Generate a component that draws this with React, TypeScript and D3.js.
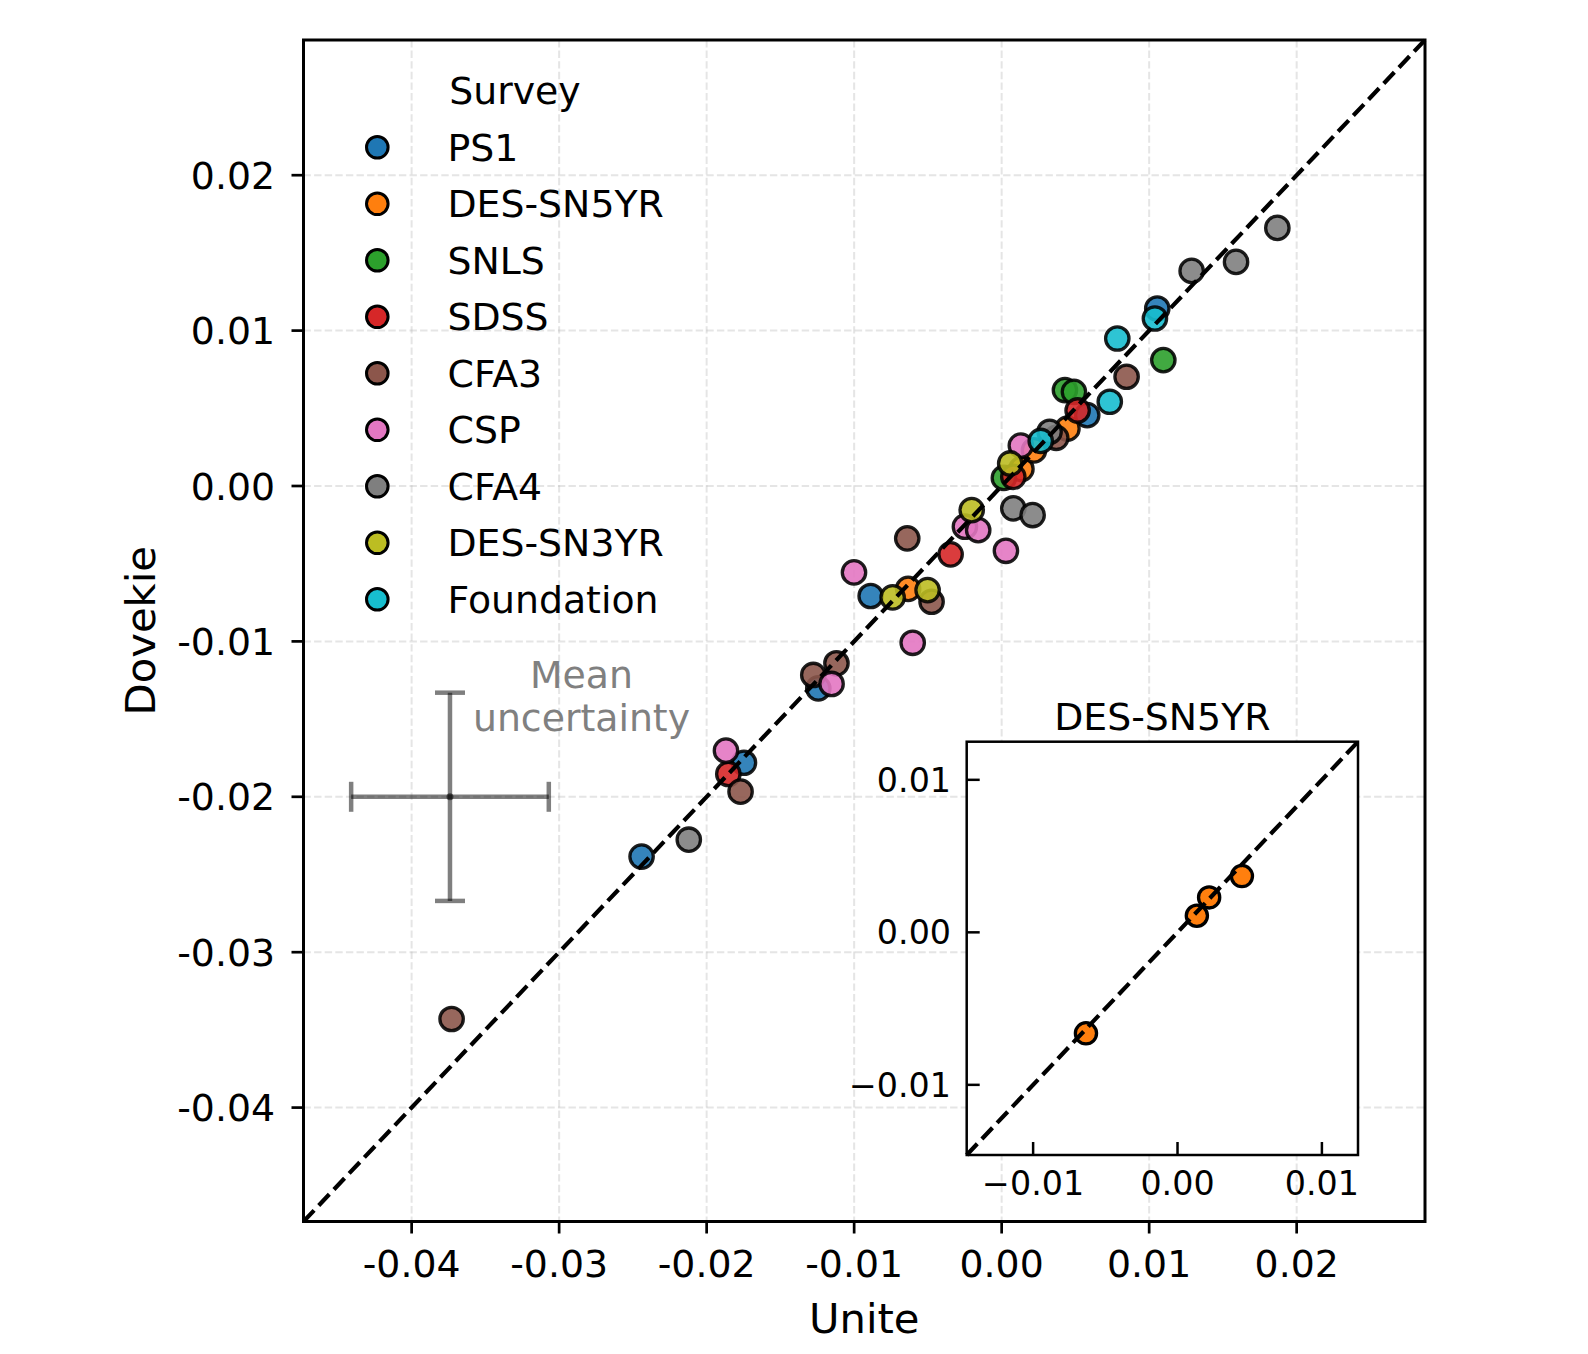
import React from "react";
import * as d3 from "d3";

const surveys = ["PS1", "DES-SN5YR", "SNLS", "SDSS", "CFA3", "CSP", "CFA4", "DES-SN3YR", "Foundation"];
const colors = ["#1f77b4", "#ff7f0e", "#2ca02c", "#d62728", "#8c564b", "#e377c2", "#7f7f7f", "#bcbd22", "#17becf"];

// [Unite, Dovekie] per survey
const ps1 = [[0.01055, 0.01142], [0.0058, 0.00456], [-0.00888, -0.00708], [-0.01243, -0.01302], [-0.01747, -0.01781], [-0.02441, -0.02385]];
const des5 = [[-0.00634, -0.00662], [0.00134, 0.00109], [0.00219, 0.00229], [0.00446, 0.00369]];
const snls = [[0.00429, 0.00617], [0.0049, 0.00606], [0.01096, 0.0081], [0.00015, 0.00052]];
const sdss = [[0.00515, 0.00486], [0.00079, 0.00059], [-0.00346, -0.0044], [-0.01853, -0.01853]];
const cfa3 = [[0.00847, 0.00703], [0.0037, 0.0031], [-0.0064, -0.00337], [-0.00475, -0.00745], [-0.0112, -0.01141], [-0.01277, -0.01216], [-0.0177, -0.01967], [-0.03729, -0.0343]];
const csp = [[0.0013, 0.0026], [-0.00249, -0.00262], [-0.00159, -0.00284], [0.00029, -0.00417], [-0.01001, -0.00556], [-0.00603, -0.01009], [-0.01153, -0.01274], [-0.01869, -0.01703]];
const cfa4 = [[0.01869, 0.01661], [0.01589, 0.01442], [0.01288, 0.01384], [0.00325, 0.00349], [0.00079, -0.00144], [0.0021, -0.00187], [-0.02121, -0.02276]];
const des3 = [[0.00058, 0.00145], [-0.00203, -0.00155], [-0.00739, -0.00717], [-0.00502, -0.0067]];
const foundation = [[0.01039, 0.01078], [0.00784, 0.00949], [0.00733, 0.00542], [0.00265, 0.0029]];
const seriesData = [ps1, des5, snls, sdss, cfa3, csp, cfa4, des3, foundation];

const mainTicks = [-0.04, -0.03, -0.02, -0.01, 0.0, 0.01, 0.02];
const mainTickLabels = ["-0.04", "-0.03", "-0.02", "-0.01", "0.00", "0.01", "0.02"];
const insetTicks = [-0.01, 0.0, 0.01];
const insetTickLabels = ["\u22120.01", "0.00", "0.01"];

const meanUnc = { x: -0.0374, y: -0.02, xerr: 0.0067, yerr: 0.0067 };

const FONT = "DejaVu Sans";

export default function App() {
  const W = 1588, H = 1354;
  const L = 303.5, R = 1425, T = 40, B = 1221.5;
  const dom: [number, number] = [-0.04733, 0.0287];
  const x = d3.scaleLinear().domain(dom).range([L, R]);
  const y = d3.scaleLinear().domain(dom).range([B, T]);

  const iL = 966.7, iR = 1358, iT = 741.7, iB = 1155;
  const idom: [number, number] = [-0.0146, 0.0125];
  const ix = d3.scaleLinear().domain(idom).range([iL, iR]);
  const iy = d3.scaleLinear().domain(idom).range([iB, iT]);

  const gridStyle = { stroke: "#b0b0b0", strokeOpacity: 0.33, strokeWidth: 2, strokeDasharray: "7.4 3.2" };
  const errColor = "rgba(0,0,0,0.5)";

  const ex = x(meanUnc.x), ey = y(meanUnc.y);
  const exl = x(meanUnc.x - meanUnc.xerr), exr = x(meanUnc.x + meanUnc.xerr);
  const eyt = y(meanUnc.y + meanUnc.yerr), eyb = y(meanUnc.y - meanUnc.yerr);

  const legX = 377.3, legY0 = 147.3, legDy = 56.5;

  return (
    <svg width={W} height={H} style={{ position: "absolute", left: 0, top: 0, background: "#fff" }} fontFamily={FONT}>
      <rect x={0} y={0} width={W} height={H} fill="#fff" />
      {/* grid */}
      <g>
        {mainTicks.map((t, i) => (
          <line key={"gx" + i} x1={x(t)} x2={x(t)} y1={T} y2={B} {...gridStyle} />
        ))}
        {mainTicks.map((t, i) => (
          <line key={"gy" + i} x1={L} x2={R} y1={y(t)} y2={y(t)} {...gridStyle} />
        ))}
      </g>
      {/* scatter */}
      <g>
        {seriesData.map((pts, si) =>
          pts.map((p, pi) => (
            <circle key={si + "-" + pi} cx={x(p[0])} cy={y(p[1])} r={11.7} fill={colors[si]} fillOpacity={0.9}
              stroke="#000" strokeOpacity={0.88} strokeWidth={3.3} />
          ))
        )}
      </g>
      {/* diagonal */}
      <line x1={x(dom[0])} y1={y(dom[0])} x2={x(dom[1])} y2={y(dom[1])} stroke="#000" strokeWidth={4.2} strokeDasharray="15.4 6.7" />
      {/* mean uncertainty */}
      <g stroke={errColor} strokeWidth={4.5}>
        <line x1={exl} x2={exr} y1={ey} y2={ey} />
        <line x1={ex} x2={ex} y1={eyt} y2={eyb} />
        <line x1={exl} x2={exl} y1={ey - 15} y2={ey + 15} />
        <line x1={exr} x2={exr} y1={ey - 15} y2={ey + 15} />
        <line x1={ex - 15} x2={ex + 15} y1={eyt} y2={eyt} />
        <line x1={ex - 15} x2={ex + 15} y1={eyb} y2={eyb} />
      </g>
      <circle cx={ex} cy={ey} r={3.5} fill={errColor} />
      <text x={581.5} y={688.3} fontSize={37.8} fill="#808080" textAnchor="middle">Mean</text>
      <text x={581.5} y={730.7} fontSize={37.8} fill="#808080" textAnchor="middle">uncertainty</text>
      {/* spines */}
      <rect x={L} y={T} width={R - L} height={B - T} fill="none" stroke="#000" strokeWidth={3} />
      {/* ticks */}
      {mainTicks.map((t, i) => (
        <g key={"xt" + i}>
          <line x1={x(t)} x2={x(t)} y1={B} y2={B + 12} stroke="#000" strokeWidth={2.7} />
          <text x={x(t)} y={1276.7} fontSize={37.8} textAnchor="middle" fill="#000">{mainTickLabels[i]}</text>
        </g>
      ))}
      {mainTicks.map((t, i) => (
        <g key={"yt" + i}>
          <line x1={L - 12} x2={L} y1={y(t)} y2={y(t)} stroke="#000" strokeWidth={2.7} />
          <text x={275} y={y(t) + 13.6} fontSize={37.8} textAnchor="end" fill="#000">{mainTickLabels[i]}</text>
        </g>
      ))}
      <text x={(L + R) / 2} y={1332.7} fontSize={41.7} textAnchor="middle" fill="#000">Unite</text>
      <text transform={`translate(155,${(T + B) / 2}) rotate(-90)`} fontSize={41.7} textAnchor="middle" fill="#000">Dovekie</text>
      {/* legend */}
      <text x={515} y={104} fontSize={37.8} textAnchor="middle" fill="#000">Survey</text>
      {surveys.map((s, i) => (
        <g key={"lg" + i}>
          <circle cx={legX} cy={legY0 + i * legDy} r={10.8} fill={colors[i]} stroke="#000" strokeWidth={3} />
          <text x={447.5} y={legY0 + i * legDy + 13.6} fontSize={37.8} fill="#000">{s}</text>
        </g>
      ))}
      {/* inset */}
      <rect x={iL} y={iT} width={iR - iL} height={iB - iT} fill="#fff" />
      {des5.map((p, i) => (
        <circle key={"in" + i} cx={ix(p[0])} cy={iy(p[1])} r={10.6} fill={colors[1]} stroke="#000" strokeWidth={3.3} />
      ))}
      <line x1={ix(idom[0])} y1={iy(idom[0])} x2={ix(idom[1])} y2={iy(idom[1])} stroke="#000" strokeWidth={4.2} strokeDasharray="15.4 6.7" />
      <rect x={iL} y={iT} width={iR - iL} height={iB - iT} fill="none" stroke="#000" strokeWidth={2.5} />
      {insetTicks.map((t, i) => (
        <g key={"ixt" + i}>
          <line x1={ix(t)} x2={ix(t)} y1={iB} y2={iB - 13} stroke="#000" strokeWidth={2.5} />
          <text x={ix(t)} y={1194.5} fontSize={33.3} textAnchor="middle" fill="#000">{insetTickLabels[i]}</text>
        </g>
      ))}
      {insetTicks.map((t, i) => (
        <g key={"iyt" + i}>
          <line x1={iL} x2={iL + 13} y1={iy(t)} y2={iy(t)} stroke="#000" strokeWidth={2.5} />
          <text x={951} y={iy(t) + 12} fontSize={33.3} textAnchor="end" fill="#000">{insetTickLabels[i]}</text>
        </g>
      ))}
      <text x={(iL + iR) / 2} y={730} fontSize={37.8} textAnchor="middle" fill="#000">DES-SN5YR</text>
    </svg>
  );
}
